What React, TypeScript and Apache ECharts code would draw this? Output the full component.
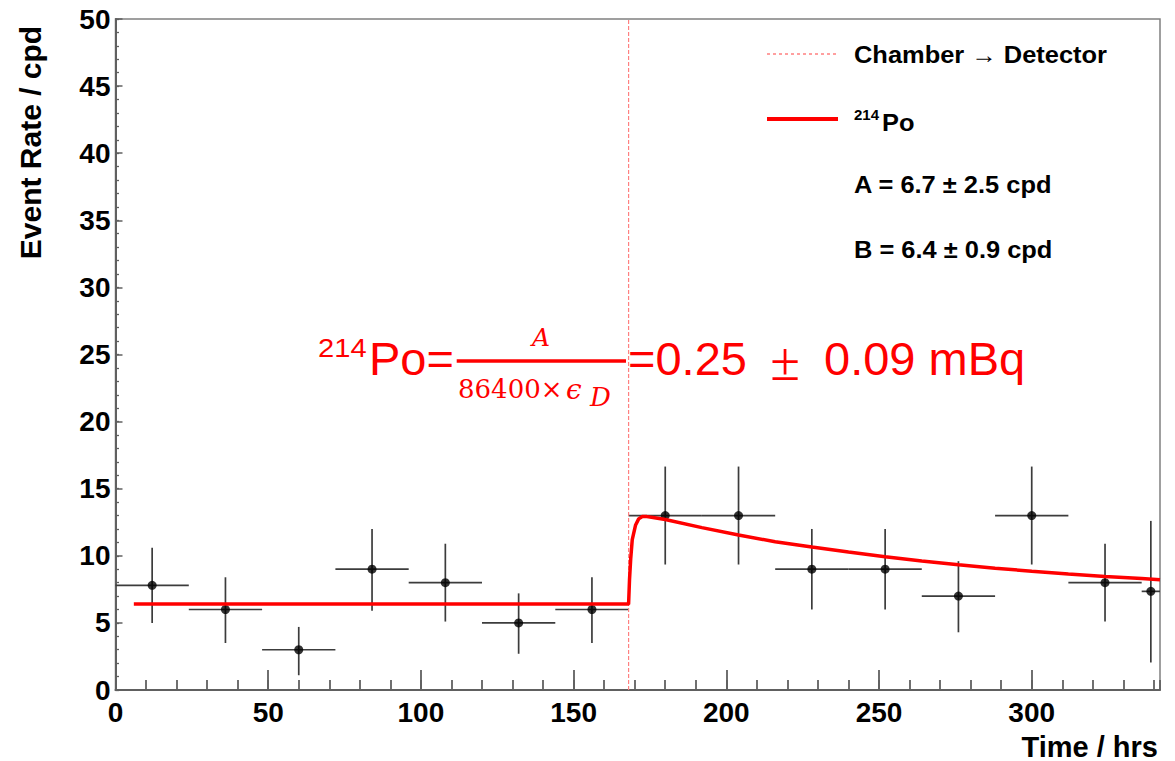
import React, { useEffect, useRef } from "react";
import * as echarts from "echarts";

// ---- Data ----
const xCenters = [12, 36, 60, 84, 108, 132, 156, 180, 204, 228, 252, 276, 300, 324, 339];
const binLow = [0, 24, 48, 72, 96, 120, 144, 168, 192, 216, 240, 264, 288, 312, 336];
const binHigh = [24, 48, 72, 96, 120, 144, 168, 192, 216, 240, 264, 288, 312, 336, 342];
const rates = [7.8, 6, 3, 9, 8, 5, 6, 13, 13, 9, 9, 7, 13, 8, 7.35];
const errUp = [2.8, 2.4, 1.7, 3.0, 2.9, 2.2, 2.4, 3.65, 3.65, 3.0, 3.0, 2.6, 3.65, 2.9, 5.25];
const errDown = [2.8, 2.5, 1.9, 3.1, 2.9, 2.3, 2.5, 3.65, 3.65, 3.0, 3.0, 2.7, 3.65, 2.9, 5.3];

const fitX = [6, 168, 168.3, 168.7, 169.2, 170.3, 171.3, 172.5, 174, 176, 180, 192, 204, 216, 228, 240, 252, 264, 276, 288, 300, 312, 324, 336, 342];
const fitY = [6.4, 6.4, 8.2, 9.8, 11.2, 12.3, 12.75, 12.93, 12.92, 12.85, 12.7, 12.1, 11.55, 11.05, 10.65, 10.28, 9.93, 9.62, 9.34, 9.08, 8.85, 8.65, 8.46, 8.3, 8.22];

const switchTime = 168;
const xMax = 342;
const yMax = 50;

const legendLabels = ["Chamber \u2192 Detector", "Po", "A = 6.7 \u00b1 2.5 cpd", "B = 6.4 \u00b1 0.9 cpd"];

const SANS = "Liberation Sans, Arial, sans-serif";
const SERIF = "DejaVu Serif, serif";
const RED = "#ff0000";
const AXIS = "#606060";

export default function App() {
  const ref = useRef<HTMLDivElement>(null);

  useEffect(() => {
    if (!ref.current) return;
    const chart = echarts.init(ref.current, undefined, { renderer: "svg" });

    const errData = xCenters.map((x, i) => [
      x,
      rates[i],
      binLow[i],
      binHigh[i],
      rates[i] - errDown[i],
      rates[i] + errUp[i],
    ]);

    const legendText = (text: string, y: number) => ({
      type: "text",
      x: 854,
      y,
      scaleX: 1.06,
      style: { text, fill: "#000", font: `bold 24px ${SANS}`, align: "left", verticalAlign: "middle" },
    });

    const option: any = {
      animation: false,
      backgroundColor: "#ffffff",
      grid: {
        left: 115.5,
        right: 15,
        top: 19,
        bottom: 71,
        show: true,
        borderColor: "#808080",
        borderWidth: 1.5,
        backgroundColor: "transparent",
      },
      xAxis: [
        {
          type: "value",
          min: 0,
          max: xMax,
          interval: 50,
          position: "bottom",
          axisLine: { show: true, lineStyle: { color: AXIS, width: 2 } },
          axisTick: { show: true, inside: true, length: 20, lineStyle: { color: AXIS, width: 1.8 } },
          splitLine: { show: false },
          axisLabel: {
            show: true,
            margin: 8,
            color: "#000",
            fontSize: 28,
            fontWeight: "bold",
            fontFamily: SANS,
            showMaxLabel: false,
            formatter: (v: number) => (v % 50 === 0 ? String(v) : ""),
          },
        },
        {
          type: "value",
          min: 0,
          max: xMax,
          interval: 10,
          position: "bottom",
          axisLine: { show: false },
          axisTick: { show: true, inside: true, length: 10, lineStyle: { color: AXIS, width: 1.8 } },
          splitLine: { show: false },
          axisLabel: { show: false },
        },
      ],
      yAxis: [
        {
          type: "value",
          min: 0,
          max: yMax,
          interval: 5,
          position: "left",
          axisLine: { show: true, lineStyle: { color: AXIS, width: 2 } },
          axisTick: { show: true, inside: true, length: 7, lineStyle: { color: AXIS, width: 1.5 } },
          splitLine: { show: false },
          axisLabel: {
            margin: 5,
            color: "#000",
            fontSize: 28,
            fontWeight: "bold",
            fontFamily: SANS,
          },
        },
        {
          type: "value",
          min: 0,
          max: yMax,
          interval: 1,
          position: "left",
          axisLine: { show: false },
          axisTick: { show: true, inside: true, length: 3.5, lineStyle: { color: AXIS, width: 1.3 } },
          splitLine: { show: false },
          axisLabel: { show: false },
        },
      ],
      series: [
        {
          name: "errors",
          type: "custom",
          xAxisIndex: 0,
          yAxisIndex: 0,
          encode: { x: 0, y: 1 },
          data: errData,
          z: 2,
          renderItem: (params: any, api: any) => {
            const xc = api.value(0);
            const yc = api.value(1);
            const p1 = api.coord([api.value(2), yc]);
            const p2 = api.coord([api.value(3), yc]);
            const p3 = api.coord([xc, api.value(4)]);
            const p4 = api.coord([xc, api.value(5)]);
            const st = { stroke: "#3c3c3c", lineWidth: 1.7 };
            return {
              type: "group",
              children: [
                { type: "line", shape: { x1: p1[0], y1: p1[1], x2: p2[0], y2: p2[1] }, style: st },
                { type: "line", shape: { x1: p3[0], y1: p3[1], x2: p4[0], y2: p4[1] }, style: st },
              ],
            };
          },
        },
        {
          name: "points",
          type: "scatter",
          xAxisIndex: 0,
          yAxisIndex: 0,
          data: xCenters.map((x, i) => [x, rates[i]]),
          symbol: "circle",
          symbolSize: 9,
          itemStyle: { color: "#000" },
          z: 3,
        },
        {
          name: "Chamber \u2192 Detector",
          type: "line",
          xAxisIndex: 0,
          yAxisIndex: 0,
          data: [
            [switchTime, 0],
            [switchTime, yMax],
          ],
          showSymbol: false,
          symbol: "none",
          lineStyle: { color: "#ff8080", width: 1.2, type: [4, 2] },
          z: 4,
        },
        {
          name: "214Po",
          type: "line",
          xAxisIndex: 0,
          yAxisIndex: 0,
          data: fitX.map((x, i) => [x, fitY[i]]),
          showSymbol: false,
          symbol: "none",
          smooth: false,
          lineStyle: { color: RED, width: 3.5 },
          z: 5,
        },
      ],
      graphic: [
        // Axis titles
        {
          type: "text",
          x: 30,
          y: 142.5,
          rotation: Math.PI / 2,
          style: {
            text: "Event Rate / cpd",
            fill: "#000",
            font: `bold 30px ${SANS}`,
            align: "center",
            verticalAlign: "middle",
          },
        },
        {
          type: "text",
          x: 1158,
          y: 746.5,
          style: {
            text: "Time / hrs",
            fill: "#000",
            font: `bold 29px ${SANS}`,
            align: "right",
            verticalAlign: "middle",
          },
        },
        // Legend
        {
          type: "line",
          shape: { x1: 767, y1: 54, x2: 837, y2: 54 },
          style: { stroke: "#ff8080", lineWidth: 1.5, lineDash: [3, 3] },
        },
        legendText(legendLabels[0], 55),
        {
          type: "line",
          shape: { x1: 767, y1: 119, x2: 838, y2: 119 },
          style: { stroke: RED, lineWidth: 4 },
        },
        {
          type: "text",
          x: 854,
          y: 114,
          style: { text: "214", fill: "#000", font: `bold 15px ${SANS}`, align: "left", verticalAlign: "middle" },
        },
        {
          type: "text",
          x: 882,
          y: 123,
          scaleX: 1.06,
          style: { text: legendLabels[1], fill: "#000", font: `bold 24px ${SANS}`, align: "left", verticalAlign: "middle" },
        },
        legendText(legendLabels[2], 185),
        legendText(legendLabels[3], 249.5),
        // Formula annotation
        {
          type: "text",
          x: 318,
          y: 348.5,
          scaleX: 1.12,
          style: { text: "214", fill: RED, font: `26px ${SANS}`, align: "left", verticalAlign: "middle" },
        },
        {
          type: "text",
          x: 369,
          y: 358,
          style: { text: "Po=", fill: RED, font: `47px ${SANS}`, align: "left", verticalAlign: "middle" },
        },
        {
          type: "line",
          shape: { x1: 456.7, y1: 361, x2: 626, y2: 361 },
          style: { stroke: RED, lineWidth: 3.5 },
        },
        {
          type: "text",
          x: 541,
          y: 337.5,
          style: { text: "A", fill: RED, font: `italic 25px ${SERIF}`, align: "center", verticalAlign: "middle" },
        },
        {
          type: "text",
          x: 458,
          y: 389,
          style: { text: "86400\u00d7", fill: RED, font: `26px ${SERIF}`, align: "left", verticalAlign: "middle" },
        },
        {
          type: "text",
          x: 566,
          y: 389,
          style: { text: "\u03f5", fill: RED, font: `italic 28px ${SERIF}`, align: "left", verticalAlign: "middle" },
        },
        {
          type: "text",
          x: 590,
          y: 397,
          style: { text: "D", fill: RED, font: `italic 26px ${SERIF}`, align: "left", verticalAlign: "middle" },
        },
        {
          type: "text",
          x: 628,
          y: 358,
          style: { text: "=0.25", fill: RED, font: `47px ${SANS}`, align: "left", verticalAlign: "middle" },
        },
        {
          type: "text",
          x: 785,
          y: 362,
          style: { text: "\u00b1", fill: RED, font: `54px Liberation Serif, serif`, align: "center", verticalAlign: "middle" },
        },
        {
          type: "text",
          x: 824,
          y: 358,
          style: { text: "0.09 mBq", fill: RED, font: `47px ${SANS}`, align: "left", verticalAlign: "middle" },
        },
      ],
    };

    chart.setOption(option);
    return () => {
      chart.dispose();
    };
  }, []);

  return (
    <div
      ref={ref}
      style={{ position: "absolute", left: 0, top: 0, width: 1175, height: 761, background: "#fff" }}
    />
  );
}
